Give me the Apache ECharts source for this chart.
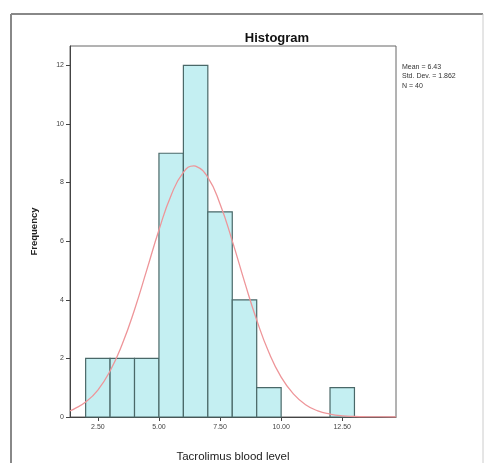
<!DOCTYPE html>
<html>
<head>
<meta charset="utf-8">
<script src="https://cdn.jsdelivr.net/npm/echarts@6/dist/echarts.min.js"></script>
<style>html,body{margin:0;padding:0;background:#fff;}#c{width:484px;height:463px;}</style>
</head>
<body>
<div id="c"></div>
<script>
// Histogram bins (lower edge of each bin, width 1)
var binStarts = [2, 3, 4, 5, 6, 7, 8, 9, 10, 11, 12];
var binWidth = 1;
var frequencies = [2, 2, 2, 9, 12, 7, 4, 1, 0, 0, 1];
// Normal curve
var curveX = [1.36, 1.5, 2.0, 2.5, 3.0, 3.5, 4.0, 4.5, 5.0, 5.5, 6.0, 6.43, 6.5, 7.0, 7.5, 8.0, 8.5, 9.0, 9.5, 10.0, 10.5, 11.0, 11.5, 12.0, 12.5, 13.0, 13.5, 14.0, 14.7];
var curveY = [0.21, 0.26, 0.51, 0.92, 1.57, 2.49, 3.66, 5.01, 6.38, 7.57, 8.35, 8.57, 8.56, 8.18, 7.27, 6.01, 4.62, 3.31, 2.20, 1.36, 0.79, 0.42, 0.21, 0.10, 0.04, 0.017, 0.006, 0.002, 0.0004];
var xTicks = [2.5, 5.0, 7.5, 10.0, 12.5];
var yTicks = [0, 2, 4, 6, 8, 10, 12];
var statsLines = ['Mean = 6.43', 'Std. Dev. = 1.862', 'N = 40'];
var titleText = 'Histogram';
var xTitle = 'Tacrolimus blood level';
var yTitle = 'Frequency';

var barData = binStarts.map(function (s, i) { return [s, s + binWidth, frequencies[i]]; });
var curveData = curveX.map(function (x, i) { return [x, curveY[i]]; });

var chart = echarts.init(document.getElementById('c'), null, {renderer: 'canvas'});
var font = 'Liberation Sans, Arial, sans-serif';
chart.setOption({
  animation: false,
  backgroundColor: '#fff',
  title: {
    text: titleText, left: 272, top: 27, textAlign: 'center',
    textStyle: {fontFamily: font, fontSize: 13, fontWeight: 'bold', color: '#111'}
  },
  grid: {left: 70, top: 46, right: 88, bottom: 46, outerBoundsMode: 'none', containLabel: false,
    show: true, borderColor: '#666', borderWidth: 1, backgroundColor: '#fff'},
  xAxis: {
    type: 'value', min: 1.36, max: 14.7,
    name: xTitle, nameLocation: 'middle', nameGap: 34,
    nameTextStyle: {fontFamily: font, fontSize: 11.5, color: '#222'},
    axisLine: {show: true, onZero: false, lineStyle: {color: '#444'}},
    axisTick: {show: true, length: 4, customValues: xTicks, lineStyle: {color: '#444'}},
    axisLabel: {customValues: xTicks, fontFamily: font, fontSize: 7, color: '#444', margin: 7,
      formatter: function (v) { return Number(v).toFixed(2); }},
    splitLine: {show: false}
  },
  yAxis: {
    type: 'value', min: 0, max: 12.66,
    name: yTitle, nameLocation: 'middle', nameGap: 31, nameRotate: 90,
    nameTextStyle: {fontFamily: font, fontSize: 9.5, fontWeight: 'bold', color: '#222'},
    axisLine: {show: true, lineStyle: {color: '#444'}},
    axisTick: {show: true, length: 4, customValues: yTicks, lineStyle: {color: '#444'}},
    axisLabel: {customValues: yTicks, fontFamily: font, fontSize: 7, color: '#444', margin: 6},
    splitLine: {show: false}
  },
  graphic: [
    {type: 'line', shape: {x1: 11, y1: 14, x2: 483, y2: 14}, style: {stroke: '#888', lineWidth: 2}, silent: true},
    {type: 'line', shape: {x1: 11, y1: 14, x2: 11, y2: 463}, style: {stroke: '#888', lineWidth: 2}, silent: true},
    {type: 'line', shape: {x1: 483, y1: 14, x2: 483, y2: 463}, style: {stroke: '#ccc', lineWidth: 1}, silent: true},
    {type: 'text', left: 402, top: 62, style: {text: statsLines.join('\n'), fontFamily: font, fontSize: 7, lineHeight: 9.5, fill: '#333'}}
  ],
  series: [
    {
      type: 'custom',
      data: barData,
      encode: {x: [0, 1], y: 2},
      renderItem: function (params, api) {
        var h = api.value(2);
        if (!h) return null;
        var p0 = api.coord([api.value(0), 0]);
        var p1 = api.coord([api.value(1), h]);
        return {
          type: 'rect',
          shape: {x: p0[0], y: p1[1], width: p1[0] - p0[0], height: p0[1] - p1[1]},
          style: {fill: '#c4eff2', stroke: '#4a6868', lineWidth: 1.2}
        };
      },
      z: 2
    },
    {
      type: 'line', data: curveData, smooth: true, showSymbol: false,
      lineStyle: {color: '#ee9599', width: 1.3}, z: 3
    }
  ]
});
</script>
</body>
</html>
